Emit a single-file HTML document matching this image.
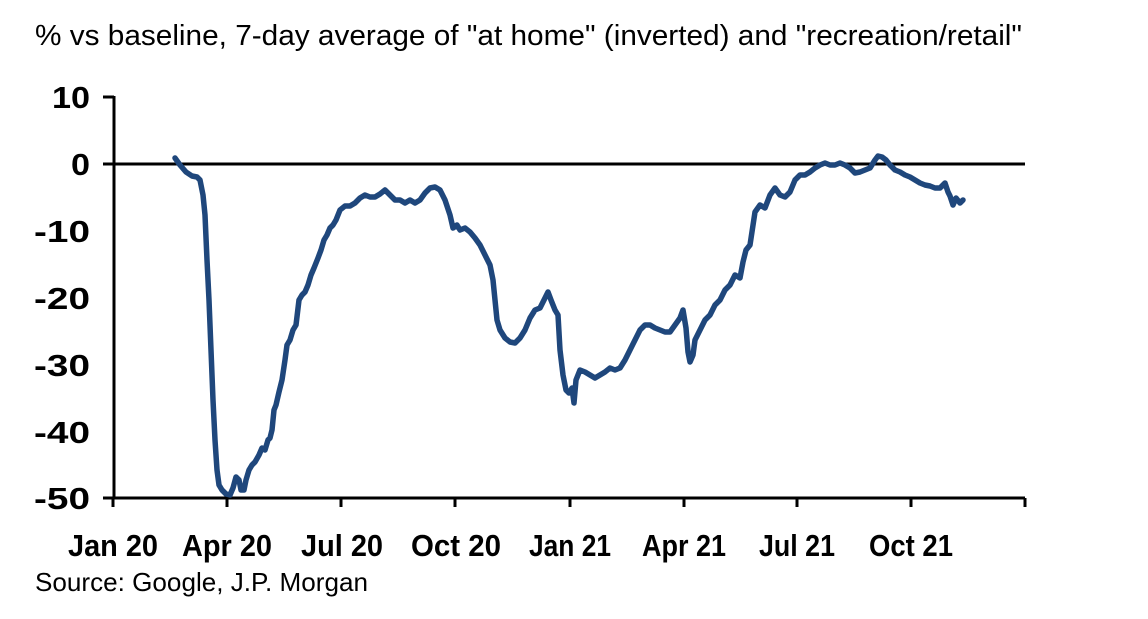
<!DOCTYPE html>
<html><head><meta charset="utf-8"><style>body{margin:0;background:#fff}svg{display:block}</style></head>
<body>
<svg width="1148" height="619" xmlns="http://www.w3.org/2000/svg" font-family="Liberation Sans, Arial, sans-serif">
<text x="35" y="45" font-size="29" textLength="987" lengthAdjust="spacingAndGlyphs">% vs baseline, 7-day average of "at home" (inverted) and "recreation/retail"</text>
<g font-size="31" font-weight="bold" text-anchor="end">
<text x="90" y="108" textLength="38" lengthAdjust="spacingAndGlyphs">10</text>
<text x="90" y="175" textLength="19" lengthAdjust="spacingAndGlyphs">0</text>
<text x="90" y="242" textLength="56" lengthAdjust="spacingAndGlyphs">-10</text>
<text x="90" y="309" textLength="56" lengthAdjust="spacingAndGlyphs">-20</text>
<text x="90" y="376" textLength="56" lengthAdjust="spacingAndGlyphs">-30</text>
<text x="90" y="443" textLength="56" lengthAdjust="spacingAndGlyphs">-40</text>
<text x="90" y="509" textLength="56" lengthAdjust="spacingAndGlyphs">-50</text>
</g>
<g font-size="31" font-weight="bold" text-anchor="middle">
<text x="113" y="556" textLength="90" lengthAdjust="spacingAndGlyphs">Jan 20</text>
<text x="227" y="556" textLength="90" lengthAdjust="spacingAndGlyphs">Apr 20</text>
<text x="342" y="556" textLength="82" lengthAdjust="spacingAndGlyphs">Jul 20</text>
<text x="456" y="556" textLength="90" lengthAdjust="spacingAndGlyphs">Oct 20</text>
<text x="570" y="556" textLength="82" lengthAdjust="spacingAndGlyphs">Jan 21</text>
<text x="684" y="556" textLength="84" lengthAdjust="spacingAndGlyphs">Apr 21</text>
<text x="797" y="556" textLength="76" lengthAdjust="spacingAndGlyphs">Jul 21</text>
<text x="911" y="556" textLength="84" lengthAdjust="spacingAndGlyphs">Oct 21</text>
</g>
<text x="35" y="591" font-size="26" textLength="333" lengthAdjust="spacingAndGlyphs">Source:  Google,  J.P.  Morgan</text>
<g stroke="#000" stroke-width="3" fill="none">
<path d="M114 96V499M103 97H114M103 164H1025M103 498H1025"/>
<path d="M113 498v9M227 498v9M341 498v9M455 498v9M570 498v9M684 498v9M797 498v9M911 498v9M1025 498v9"/>
</g>
<polyline fill="none" stroke="#1f477c" stroke-width="5.5" stroke-linejoin="round" stroke-linecap="round" points="175,158 180,165 186,172 192,176 197,177 200,180 203,195 205,215 207,260 209,300 211,350 213,400 215,440 217,470 219,485 222,490 226,494 230,495 233,488 236,477 239,480 241,490 244,490 246,480 249,470 252,465 255,462 259,455 262,448 265,450 268,440 270,438 272,430 274,410 276,405 279,392 282,380 285,360 287,345 290,340 293,330 296,325 299,300 302,295 305,292 308,285 311,275 314,268 318,258 321,250 324,240 327,235 330,228 333,225 336,220 340,210 345,206 350,206 355,203 360,198 365,195 370,197 375,197 380,194 385,190 390,195 395,200 400,200 405,203 410,200 415,203 420,200 425,193 430,188 435,187 440,190 445,200 450,215 453,228 457,225 460,230 465,228 470,232 475,238 480,245 485,255 490,265 493,280 495,300 497,320 500,330 505,338 510,342 515,343 520,338 525,330 530,318 535,310 540,308 545,298 548,292 551,300 555,310 558,315 560,350 563,375 566,390 569,393 572,388 574,403 576,380 580,370 585,372 590,375 595,378 600,375 605,372 610,368 615,370 620,368 625,360 630,350 635,340 640,330 645,325 650,325 655,328 660,330 665,332 670,332 675,325 680,318 683,310 686,328 688,352 690,362 693,355 695,340 700,330 705,320 710,315 715,305 720,300 725,290 730,285 735,275 740,278 743,262 746,250 750,245 755,212 760,205 765,208 770,195 775,188 780,195 785,197 790,192 795,180 800,175 805,175 810,172 815,168 820,165 825,163 830,165 835,165 840,163 845,165 850,168 855,173 860,172 865,170 870,168 875,160 878,156 882,157 886,160 890,165 895,170 900,172 905,175 910,177 915,180 920,183 925,185 930,186 935,188 940,188 945,183 948,192 950,196 953,205 956,198 960,203 963,200"/>
</svg>
</body></html>
